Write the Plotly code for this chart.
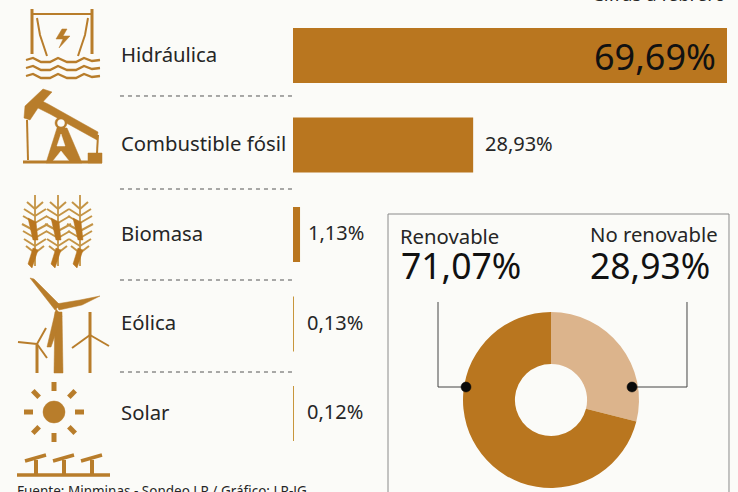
import math
import plotly.graph_objects as go

categories = ["Hidráulica", "Combustible fósil", "Biomasa", "Eólica", "Solar"]
values = [69.69, 28.93, 1.13, 0.13, 0.12]
value_labels = ["69,69%", "28,93%", "1,13%", "0,13%", "0,12%"]
donut_labels = ["No renovable", "Renovable"]
donut_values = [28.93, 71.07]
donut_texts = ["28,93%", "71,07%"]

W, H = 738, 492
BROWN = "#b9761f"
THIN = "#c8963c"
ICON = "#b87d2b"
LIGHT = "#dcb48c"
INK = "#262626"
PAPER = "#fbfbf8"
FONT = "Noto Sans"

def px(x): return x / W
def py(y): return 1 - y / H

def path(points, closed=False):
    s = "M" + " L".join(f"{px(x):.5f},{py(y):.5f}" for x, y in points)
    return s + (" Z" if closed else "")

shapes = []
def line(points, w=1.0, c=ICON, dash=None):
    shapes.append(dict(type="path", path=path(points), xref="paper", yref="paper",
                       line=dict(color=c, width=w, dash=dash or "solid"), fillcolor="rgba(0,0,0,0)"))
def poly(points, c=ICON):
    shapes.append(dict(type="path", path=path(points, True), xref="paper", yref="paper",
                       line=dict(color=c, width=0.5), fillcolor=c))
def circle(cx, cy, r, fill=ICON, edge=None):
    shapes.append(dict(type="circle", xref="paper", yref="paper",
                       x0=px(cx - r), x1=px(cx + r), y0=py(cy + r), y1=py(cy - r),
                       fillcolor=fill, line=dict(color=edge or fill, width=0.5)))

# hydro icon
line([(32, 9), (32, 54)], 3); line([(92, 9), (92, 54)], 3)
line([(32, 14), (92, 14)], 2)
line([(37, 18), (40, 35), (47, 56)], 2); line([(88, 18), (85, 35), (78, 56)], 2)
poly([(62, 29), (56, 39), (63, 39), (59, 48), (70, 36), (63, 36), (67, 29)])
for wy in (60, 68, 76):
    line([(26, wy), (33, wy - 2), (41, wy + 2), (50, wy + 2), (58, wy - 2), (67, wy + 2),
          (76, wy + 2), (84, wy - 2), (92, wy + 1), (100, wy)], 2.3)
# pumpjack icon
poly([(40, 100), (48, 104), (98, 132), (97, 140), (50, 114), (38, 108)])
poly([(24, 118), (25, 106), (43, 89), (52, 92), (40, 105), (30, 120)])
line([(27, 120), (28, 160)], 2)
poly([(57, 128), (67, 128), (82, 163), (46, 163)])
circle(61, 123, 6)
circle(61, 123, 3.5, PAPER)
for tri in ([(61, 134), (65, 146), (57, 146)], [(61, 151), (69, 161), (53, 161)]):
    poly(tri, PAPER)
line([(98, 135), (97, 153)], 2)
poly([(88, 153), (102, 153), (102, 163), (88, 163)])
line([(23, 162), (102, 162)], 3)
# corn icon
CORN = "#c49445"
for cx in (35, 58, 80):
    line([(cx, 195), (cx, 266)], 1.8, CORN)
    for ly, sp in ((204, 8), (211, 11), (218, 12), (226, 13), (233, 12), (241, 11), (248, 9)):
        line([(cx, ly + 5), (cx - sp, ly - 2)], 2, CORN)
        line([(cx, ly + 5), (cx + sp, ly - 2)], 2, CORN)
    poly([(cx - 7, 218), (cx + 1, 222), (cx + 3, 240), (cx - 2, 240)], BROWN)
    poly([(cx - 2, 248), (cx + 3, 250), (cx - 3, 268), (cx - 7, 264)], BROWN)
# wind icon
poly([(55, 312), (62, 312), (63, 373), (54, 373)])
poly([(30, 278), (34, 279), (60, 305), (55, 310)])
poly([(56, 304), (80, 300), (100, 296), (82, 305), (59, 310)])
poly([(56, 309), (62, 316), (51, 347), (47, 347)])
line([(90, 312), (90, 373)], 3)
line([(90, 335), (72, 348)], 2); line([(90, 335), (109, 346)], 2)
line([(37, 345), (37, 373)], 3)
line([(37, 344), (18, 342)], 2); line([(37, 344), (46, 328)], 2); line([(37, 344), (47, 358)], 2)
# sun icon
circle(54, 412, 11)
for i in range(8):
    a = math.radians(45 * i)
    line([(54 + 21 * math.cos(a), 412 + 21 * math.sin(a)),
          (54 + 30 * math.cos(a), 412 + 30 * math.sin(a))], 5)
line([(17, 475), (110, 475)], 3.5)
for gx in (36, 64, 92):
    line([(gx, 460), (gx, 474)], 4)
    line([(gx - 11, 461), (gx + 10, 455)], 3.5)

# separators
for sy in (96, 189, 280, 372):
    line([(120, sy), (293, sy)], 1, "#555555", "4px,4px")
# donut frame and connectors
line([(388, 500), (388, 214), (729, 214), (729, 500)], 1, "#8a8a8a")
line([(438, 302), (438, 387), (466, 387)], 1, "#444444")
line([(687, 302), (687, 387), (632, 387)], 1, "#444444")

bar_colors = [BROWN, BROWN, BROWN, THIN, THIN]
bar = go.Bar(x=values, y=categories, orientation="h",
             marker=dict(color=bar_colors, line=dict(width=0, color=bar_colors)),
             width=0.615, xaxis="x", yaxis="y", hoverinfo="skip")
pie = go.Pie(values=donut_values, labels=donut_labels, hole=0.41, sort=False, direction="clockwise",
             rotation=0, textinfo="none", marker=dict(colors=[LIGHT, BROWN], line=dict(width=0)),
             domain=dict(x=[px(463), px(639)], y=[py(488), py(312)]), showlegend=False, hoverinfo="skip")
fig = go.Figure([bar, pie])

ann = []
def text(x, y, s, size, color=INK, anchor="left"):
    ann.append(dict(x=px(x), y=py(y), xref="paper", yref="paper", text=s, showarrow=False,
                    xanchor=anchor, yanchor="middle", font=dict(family=FONT, size=size, color=color)))
for c in categories:
    ann.append(dict(x=px(119), xref="paper", y=c, yref="y", yshift=2, text=c, showarrow=False, xanchor="left",
                    yanchor="middle", font=dict(family=FONT, size=20.3, color=INK)))
ann.append(dict(x=values[0], y=categories[0], xref="x", yref="y", text=value_labels[0], showarrow=False,
                xanchor="right", xshift=-9, yshift=-1, font=dict(family=FONT, size=36, color="#111111")))
for c, v, t, sh in zip(categories[1:], values[1:], value_labels[1:], (10, 6, 11, 11)):
    ann.append(dict(x=v, y=c, xref="x", yref="y", text=t, showarrow=False, xanchor="left", xshift=sh, yshift=2,
                    font=dict(family=FONT, size=20, color=INK)))
text(398, 236, donut_labels[1], 20.3)
text(588, 234, donut_labels[0], 20.3)
text(399, 265, donut_texts[1], 35.5, "#111111")
text(588, 265, donut_texts[0], 35.5, "#111111")
text(15, 491, "Fuente: Minminas - Sondeo LR / Gráfico: LR-JG", 13.5)
text(590, -6, "Cifras a febrero", 18.5)

# donut dots
circle(466, 387, 5, "#0a0a0a"); circle(632, 387, 5, "#0a0a0a")

fig.update_layout(
    width=W, height=H, margin=dict(l=0, r=0, t=0, b=0), paper_bgcolor=PAPER, plot_bgcolor="rgba(0,0,0,0)",
    showlegend=False, shapes=shapes, annotations=ann,
    xaxis=dict(domain=[px(293), px(727)], range=[0, 69.69], visible=False, fixedrange=True),
    yaxis=dict(domain=[py(458.25), py(10.75)], range=[4.5, -0.5], categoryorder="array",
               categoryarray=categories, visible=False, fixedrange=True),
)
fig.write_html("out.html", post_script="document.body.style.margin='0';document.body.style.overflow='hidden';",
               config=dict(displayModeBar=False))
